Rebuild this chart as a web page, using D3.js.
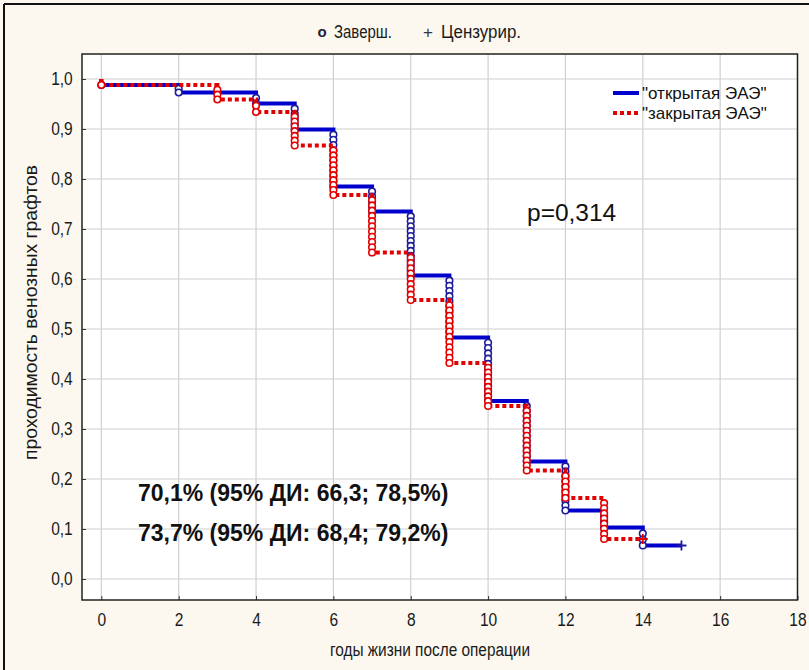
<!DOCTYPE html>
<html><head><meta charset="utf-8">
<script src="https://cdn.jsdelivr.net/npm/d3@7"></script>
<style>
html,body{margin:0;padding:0;background:#fcf8ef;}
svg{display:block;}
</style></head>
<body>
<svg id="chart" width="809" height="670"></svg>
<script>
// ---------- data ----------
const seriesNames = ['"открытая ЭАЭ"', '"закрытая ЭАЭ"'];
// step times (years) and survival after the step
const openTimes  = [0, 2, 4, 5, 6, 7, 8, 9, 10, 11, 12, 13, 14];
const openSurv   = [0.988, 0.973, 0.951, 0.899, 0.785, 0.735, 0.607, 0.483, 0.356, 0.235, 0.137, 0.103, 0.067];
const openEvents = [1, 2, 2, 5, 11, 5, 13, 12, 12, 12, 10, 3, 3];
const openCensor = [15];
const closedTimes  = [0, 3, 4, 5, 6, 7, 8, 9, 10, 11, 12, 13];
const closedSurv   = [0.988, 0.959, 0.934, 0.867, 0.768, 0.653, 0.558, 0.432, 0.346, 0.217, 0.162, 0.080];
const closedEvents = [1, 3, 2, 7, 10, 11, 9, 12, 9, 13, 5, 8];
const closedCensor = [14];
const xTicks = [0, 2, 4, 6, 8, 10, 12, 14, 16, 18];
const yTicks = [0, 0.1, 0.2, 0.3, 0.4, 0.5, 0.6, 0.7, 0.8, 0.9, 1.0];
const yTickLabels = ["0,0","0,1","0,2","0,3","0,4","0,5","0,6","0,7","0,8","0,9","1,0"];
const pText = "p=0,314";
const ciTexts = ["70,1% (95% ДИ: 66,3; 78,5%)", "73,7% (95% ДИ: 68,4; 79,2%)"];
const xTitle = "годы жизни после операции";
const yTitle = "проходимость венозных графтов";
const topLegend = ["o", "Заверш.", "+", "Цензурир."];

// ---------- layout ----------
const FONT = "Liberation Sans, Arial, sans-serif";
const NARROW = 0.84;
const svg = d3.select("#chart");
const L = 82, R = 797.5, T = 54, B = 600;
const x = d3.scaleLinear().domain([-0.5, 18]).range([L, R]);
const y = d3.scaleLinear().domain([-0.042, 1.05]).range([B, T]);

const BLUE = "#0000cc", BLUE_M = "#1c1c9c", RED = "#e30000";

// outer frame (left & top border)
svg.append("line").attr("x1",4).attr("y1",4).attr("x2",4).attr("y2",670).attr("stroke","#111").attr("stroke-width",2);
svg.append("line").attr("x1",4).attr("y1",4).attr("x2",809).attr("y2",4).attr("stroke","#111").attr("stroke-width",2);

// plot background
svg.append("rect").attr("x",L).attr("y",T).attr("width",R-L).attr("height",B-T).attr("fill","#fff");

const plot = svg.append("g");
plot.append("defs").append("clipPath").attr("id","clip")
  .append("rect").attr("x",L).attr("y",T).attr("width",R-L).attr("height",B-T);

// gridlines
plot.append("g").selectAll("line").data(xTicks).join("line")
  .attr("x1",d=>x(d)).attr("x2",d=>x(d)).attr("y1",T).attr("y2",B)
  .attr("stroke","#cfcfcf").attr("stroke-width",1.2);
plot.append("g").selectAll("line").data(yTicks).join("line")
  .attr("x1",L).attr("x2",R).attr("y1",d=>y(d)).attr("y2",d=>y(d))
  .attr("stroke","#cfcfcf").attr("stroke-width",1.2);

// axes
const yAxis = d3.axisLeft(y).tickValues(yTicks).tickSize(-4).tickPadding(11)
  .tickFormat((d,i)=>yTickLabels[i]);
const gy = svg.append("g").attr("transform",`translate(${L},0)`).call(yAxis);
const xAxis = d3.axisBottom(x).tickValues(xTicks).tickSize(-4).tickPadding(13)
  .tickFormat(d=>String(d));
const gx = svg.append("g").attr("transform",`translate(0,${B})`).call(xAxis);
[gy,gx].forEach(g=>{
  g.select(".domain").remove();
  g.selectAll(".tick line").attr("stroke","#333").attr("stroke-width",1);
  g.selectAll(".tick text").attr("font-family",FONT).attr("font-size",18.5)
    .attr("fill","#1a1a1a").attr("transform",`scale(${NARROW},1)`);
});

// frame
svg.append("rect").attr("x",L).attr("y",T).attr("width",R-L).attr("height",B-T)
  .attr("fill","none").attr("stroke","#222").attr("stroke-width",1.5);

// ---------- KM curves ----------
function stepPoints(times, surv, censor){
  const pts = [[times[0], 1.0]];
  times.forEach((t,i)=>pts.push([t, surv[i]]));
  pts.push([censor[0], surv[surv.length-1]]);
  return pts;
}
function eventPoints(times, surv, events){
  const out = [];
  times.forEach((t,i)=>{
    const prev = i===0 ? 1.0 : surv[i-1];
    const n = events[i];
    for(let k=1;k<=n;k++) out.push([t, prev - (prev - surv[i])*k/n]);
  });
  return out;
}
const line = d3.line().x(d=>x(d[0])).y(d=>y(d[1])).curve(d3.curveStepAfter);
const g = plot.append("g").attr("clip-path","url(#clip)");

function drawSeries(times, surv, events, censor, color, mcolor, dash){
  g.append("path").datum(stepPoints(times,surv,censor))
    .attr("d",line).attr("fill","none").attr("stroke",color)
    .attr("stroke-width",4).attr("stroke-dasharray",dash||null);
  g.append("g").selectAll("circle").data(eventPoints(times,surv,events)).join("circle")
    .attr("cx",d=>x(d[0])).attr("cy",d=>y(d[1])).attr("r",3.3)
    .attr("fill","#fff").attr("stroke",mcolor).attr("stroke-width",1.6);
  g.append("g").selectAll("path").data(censor).join("path")
    .attr("transform",d=>`translate(${x(d)},${y(surv[surv.length-1])})`)
    .attr("d","M-5,0H5M0,-5V5").attr("stroke",mcolor).attr("stroke-width",1.8);
}
drawSeries(openTimes, openSurv, openEvents, openCensor, BLUE, BLUE_M, null);
drawSeries(closedTimes, closedSurv, closedEvents, closedCensor, RED, RED, "4,3");

// ---------- texts ----------
svg.append("text").attr("x",527).attr("y",221).attr("font-family",FONT)
  .attr("font-size",24.5).attr("fill","#111").text(pText);
ciTexts.forEach((t,i)=>{
  svg.append("text").attr("x",138).attr("y",501+i*40)
    .attr("font-family",FONT).attr("font-weight","bold")
    .attr("font-size",23).attr("fill","#111").text(t);
});

// right legend
const lg = svg.append("g");
[[BLUE,null],[RED,"4,3"]].forEach((s,i)=>{
  const yy = 93 + i*20;
  lg.append("line").attr("x1",613).attr("x2",639).attr("y1",yy).attr("y2",yy)
    .attr("stroke",s[0]).attr("stroke-width",4).attr("stroke-dasharray",s[1]);
  lg.append("text").attr("x",642).attr("y",yy+6)
    .attr("font-family",FONT).attr("font-size",17)
    .attr("fill","#111").text(seriesNames[i]);
});

// top legend
const tlY = 38;
svg.append("text").attr("x",322).attr("y",tlY-1).attr("text-anchor","middle").attr("font-family",FONT)
  .attr("font-size",15).attr("font-weight","bold").attr("fill","#223").text(topLegend[0]);
svg.append("text").attr("x",334).attr("y",tlY).attr("font-family",FONT).attr("font-size",17.5)
  .attr("fill","#1a1a1a").attr("textLength",58).attr("lengthAdjust","spacingAndGlyphs").text(topLegend[1]);
svg.append("text").attr("x",428).attr("y",tlY).attr("text-anchor","middle").attr("font-family",FONT)
  .attr("font-size",17).attr("fill","#334").text(topLegend[2]);
svg.append("text").attr("x",441).attr("y",tlY).attr("font-family",FONT).attr("font-size",17.5)
  .attr("fill","#1a1a1a").attr("textLength",80).attr("lengthAdjust","spacingAndGlyphs").text(topLegend[3]);

// axis titles
svg.append("text").attr("x",330).attr("y",656)
  .attr("font-family",FONT).attr("font-size",18).attr("fill","#1a1a1a")
  .attr("textLength",200).attr("lengthAdjust","spacingAndGlyphs").text(xTitle);
svg.append("text").attr("transform",`translate(37,460) rotate(-90)`)
  .attr("font-family",FONT).attr("font-size",18.5).attr("fill","#1a1a1a")
  .attr("textLength",295).attr("lengthAdjust","spacingAndGlyphs").text(yTitle);
</script>
</body></html>
